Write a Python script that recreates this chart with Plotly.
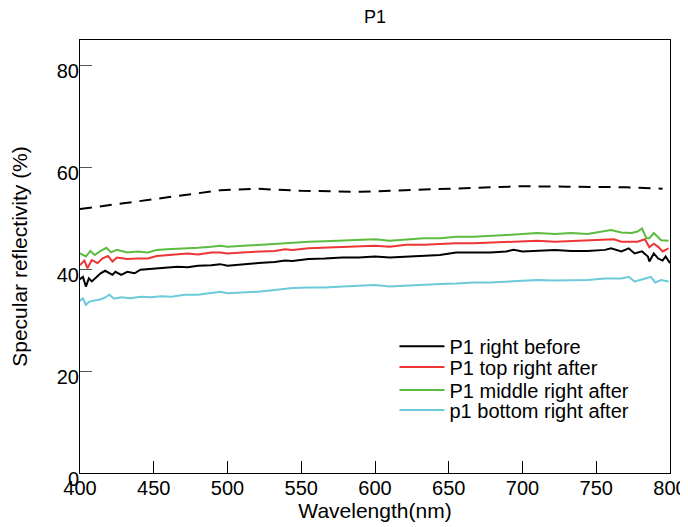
import plotly.graph_objects as go

# ---- data ----
wl_dash = [400, 420, 450, 470, 495, 520, 550, 590, 640, 700, 730, 770, 795]
val_dash = [51.8, 52.6, 53.7, 54.6, 55.5, 55.8, 55.4, 55.2, 55.7, 56.3, 56.2, 56.1, 55.8]

wl_black = [399, 402, 404, 406, 408, 411, 414, 417, 420, 422, 424, 428, 432, 437, 441, 446, 452, 459, 466,
            473, 480, 489, 495, 500, 510, 521, 532, 539, 544, 555, 566, 578, 589, 600, 610, 621, 633, 644,
            655, 667, 678, 689, 694, 700, 710, 722, 733, 744, 756, 760, 767, 772, 776, 781, 785, 786, 789,
            792, 795, 797, 800]
val_black = [37.9, 38.5, 36.6, 38.2, 37.6, 38.5, 39.2, 39.7, 39.2, 38.9, 39.5, 38.9, 39.5, 39.2, 39.9, 40.0,
             40.2, 40.3, 40.5, 40.4, 40.7, 40.8, 41.0, 40.7, 41.0, 41.2, 41.4, 41.7, 41.6, 42.0, 42.1, 42.3,
             42.3, 42.5, 42.3, 42.5, 42.6, 42.8, 43.3, 43.3, 43.3, 43.5, 43.8, 43.5, 43.6, 43.8, 43.6, 43.6,
             43.8, 44.1, 43.5, 44.1, 43.1, 43.5, 42.5, 41.5, 43.1, 42.1, 41.7, 42.5, 41.2]

wl_red = [400, 403, 405, 408, 412, 415, 419, 422, 425, 432, 439, 446, 452, 459, 466, 473, 480, 489, 495,
          500, 510, 521, 532, 539, 544, 555, 566, 578, 589, 600, 610, 621, 633, 644, 655, 667, 678, 689,
          700, 710, 722, 733, 744, 756, 762, 767, 774, 778, 783, 786, 789, 792, 795, 799]
val_red = [40.8, 41.7, 40.2, 41.8, 41.2, 42.1, 42.6, 41.5, 42.3, 42.0, 42.1, 42.1, 42.6, 42.8, 42.9, 43.1,
           42.9, 43.3, 43.3, 43.1, 43.3, 43.5, 43.6, 43.9, 43.8, 44.1, 44.2, 44.3, 44.4, 44.6, 44.4, 44.8,
           44.8, 45.0, 45.1, 45.1, 45.2, 45.3, 45.5, 45.6, 45.4, 45.5, 45.6, 45.7, 45.9, 45.4, 45.4, 45.4,
           45.9, 44.3, 45.0, 44.4, 43.5, 44.1]

wl_green = [400, 404, 407, 410, 414, 418, 421, 425, 432, 439, 446, 452, 459, 466, 473, 480, 489, 495, 500,
            510, 521, 532, 539, 544, 555, 566, 578, 589, 600, 610, 621, 633, 644, 655, 667, 678, 689, 700,
            710, 722, 733, 744, 756, 760, 767, 774, 778, 781, 784, 786, 789, 791, 794, 799]
val_green = [43.1, 42.5, 43.6, 42.8, 43.6, 44.2, 43.3, 43.8, 43.3, 43.5, 43.3, 43.8, 43.9, 44.0, 44.0, 44.2,
             44.4, 44.6, 44.4, 44.6, 44.8, 45.0, 45.2, 45.2, 45.4, 45.5, 45.6, 45.7, 45.9, 45.6, 45.9, 46.1,
             46.1, 46.4, 46.4, 46.5, 46.7, 46.9, 47.1, 46.9, 47.1, 46.9, 47.4, 47.7, 47.2, 47.1, 47.4, 48.0,
             46.1, 46.1, 47.1, 46.5, 45.7, 45.6]

wl_cyan = [399, 402, 404, 406, 409, 413, 416, 420, 423, 428, 434, 441, 448, 455, 462, 471, 480, 489, 495,
           500, 510, 521, 532, 539, 544, 555, 566, 578, 589, 600, 610, 621, 633, 644, 655, 667, 678, 689,
           700, 710, 722, 733, 744, 756, 767, 772, 776, 781, 787, 790, 794, 799]
val_cyan = [33.6, 34.3, 33.0, 33.6, 33.8, 34.0, 34.3, 35.0, 34.2, 34.5, 34.3, 34.6, 34.5, 34.7, 34.6, 35.0,
            35.0, 35.4, 35.6, 35.3, 35.4, 35.6, 35.9, 36.1, 36.3, 36.4, 36.4, 36.6, 36.7, 36.9, 36.6, 36.8,
            37.0, 37.1, 37.2, 37.4, 37.4, 37.6, 37.8, 37.9, 37.8, 37.9, 37.9, 38.2, 38.2, 38.5, 37.6, 38.0,
            38.5, 37.4, 37.9, 37.6]

names = ["P1 right before", "P1 top right after", "P1 middle right after", "p1 bottom right after"]
colors = ["#000000", "#ee3535", "#5dbb3f", "#6ccadb"]

x_ticks = [400, 450, 500, 550, 600, 650, 700, 750, 800]
y_ticks = [0, 20, 40, 60, 80]

FONT = "Liberation Sans, Arial, Helvetica, sans-serif"

# one legend per entry so the row spacing can follow the reference
legend_ids = ["legend", "legend2", "legend3", "legend4"]
legend_rows = [0.293, 0.245, 0.1917, 0.1455]

fig = go.Figure()
series = [(wl_black, val_black), (wl_red, val_red), (wl_green, val_green), (wl_cyan, val_cyan)]
for (xs, ys), nm, col, lg in zip(series, names, colors, legend_ids):
    fig.add_trace(go.Scatter(x=xs, y=ys, mode="lines", name=nm, legend=lg,
                             line=dict(color=col, width=2)))
fig.add_trace(go.Scatter(x=wl_dash, y=val_dash, mode="lines", name="P1 reference",
                         showlegend=False,
                         line=dict(color="#000000", width=2, dash="12px,8px")))

legend_layout = {}
for lg, yr in zip(legend_ids, legend_rows):
    legend_layout[lg] = dict(x=0.533, xanchor="left", y=yr, yanchor="middle", itemwidth=45,
                             bgcolor="rgba(0,0,0,0)", font=dict(size=20, family=FONT),
                             borderwidth=0)

# the page adds an 8px body margin, so the figure is 8px smaller than the window
fig.update_layout(
    width=680, height=519,
    margin=dict(l=72, r=18, t=32, b=54, autoexpand=False),
    paper_bgcolor="white", plot_bgcolor="white",
    font=dict(family=FONT, color="#000000"),
    title=dict(text="P1", xref="paper", x=0.5, xanchor="center", y=0.9835, yanchor="middle",
               font=dict(size=18, family=FONT)),
    showlegend=True,
    **legend_layout,
)
fig.update_xaxes(range=[400, 800], tickvals=x_ticks, ticks="inside", ticklen=12,
                 tickcolor="#000000", showline=True, linecolor="#000000", linewidth=1,
                 mirror=True, showgrid=False, zeroline=False, automargin=False,
                 ticklabelstandoff=-3, ticklabeloverflow="allow",
                 tickfont=dict(size=20, family=FONT),
                 title=dict(text="Wavelength(nm)", font=dict(size=21, family=FONT), standoff=1))
fig.update_yaxes(range=[0, 85], tickvals=y_ticks, ticks="inside", ticklen=12,
                 tickcolor="#555555", showline=True, linecolor="#000000", linewidth=1,
                 mirror=True, showgrid=False, zeroline=False, automargin=False,
                 ticklabelstandoff=-4, ticklabelshift=6, ticklabeloverflow="allow",
                 tickfont=dict(size=20, family=FONT),
                 title=dict(text="Specular reflectivity (%)", font=dict(size=21, family=FONT), standoff=28))

fig.write_html("out.html")
